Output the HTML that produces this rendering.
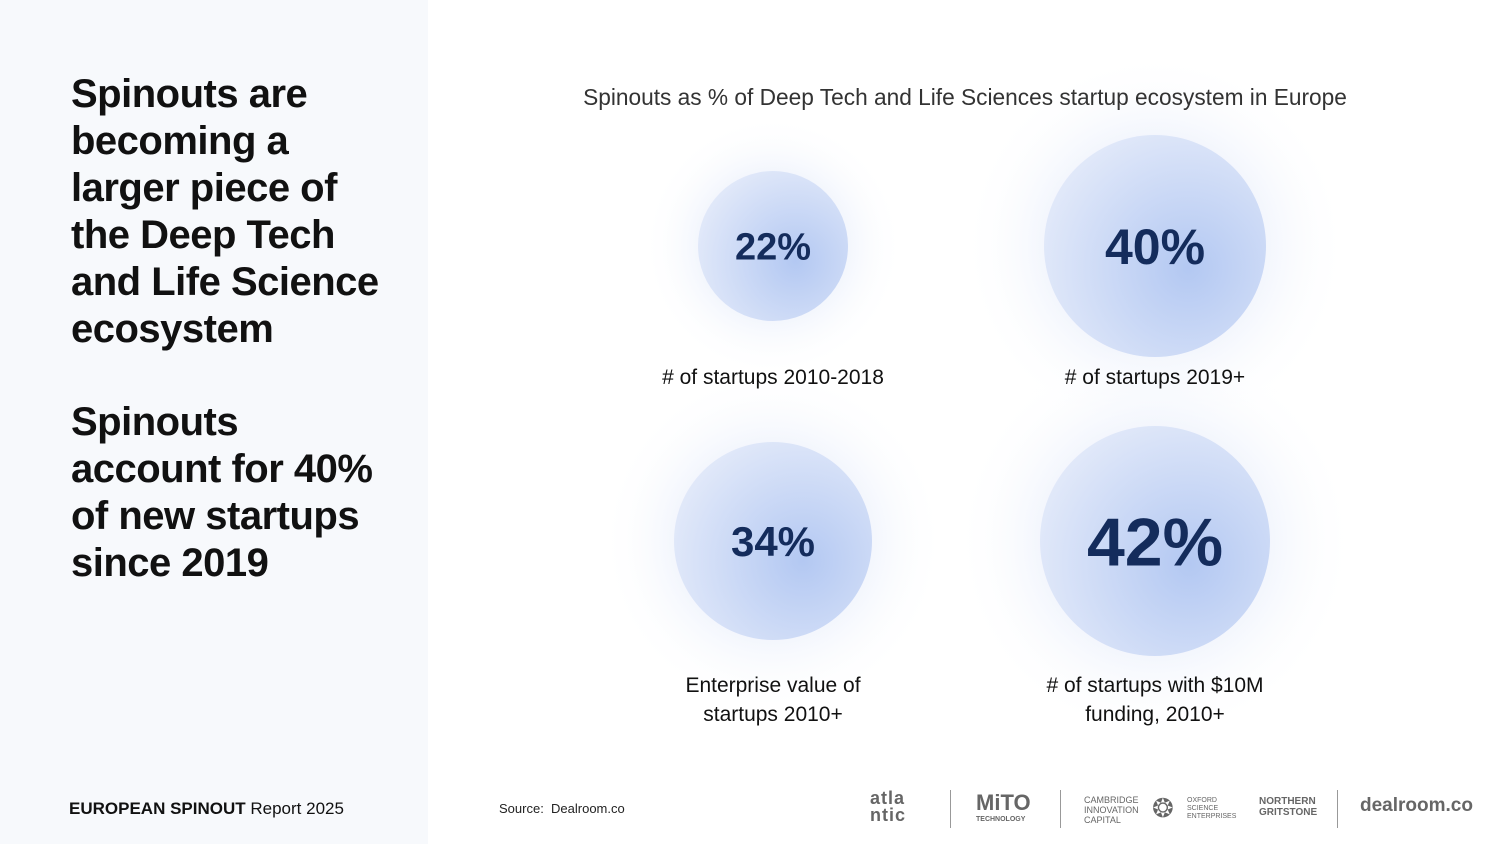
<!DOCTYPE html>
<html><head><meta charset="utf-8"><style>
html,body{margin:0;padding:0;width:1500px;height:844px;overflow:hidden;background:#fff;font-family:"Liberation Sans",sans-serif}
#left{position:absolute;left:0;top:0;width:428px;height:844px;background:#f7f9fc}
.h{position:absolute;left:71px;font-weight:bold;font-size:40px;line-height:47px;color:#111;letter-spacing:-0.5px}
#foot{position:absolute;left:69px;top:799px;font-size:17px;color:#111}
#src{position:absolute;left:499px;top:801px;font-size:13px;color:#222}
.logo{position:absolute;color:#666;font-weight:bold;font-family:"Liberation Sans",sans-serif}
.sep{position:absolute;top:790px;width:1px;height:38px;background:#999}
</style></head><body>
<div id="left">
<div class="h" style="top:71px">Spinouts are<br>becoming a<br>larger piece of<br>the Deep Tech<br>and Life Science<br>ecosystem</div>
<div class="h" style="top:399px">Spinouts<br>account for 40%<br>of new startups<br>since 2019</div>
<div id="foot"><b>EUROPEAN SPINOUT</b> Report 2025</div>
</div>
<div id="src">Source:&nbsp; Dealroom.co</div>
<svg id="chart" width="1500" height="844" style="position:absolute;left:0;top:0">
<defs>
<radialGradient id="glow"><stop offset="0.5" stop-color="#e8eefb" stop-opacity="0.7"/><stop offset="1" stop-color="#ffffff" stop-opacity="0"/></radialGradient>
<radialGradient id="fill" cx="0.65" cy="0.6" r="0.75"><stop offset="0" stop-color="#b3c8f2"/><stop offset="1" stop-color="#e6ecfa"/></radialGradient>
</defs>
<g id="glows"></g>
<g id="fg"></g>
<text x="965" y="105" text-anchor="middle" font-size="22.7" fill="#333">Spinouts as % of Deep Tech and Life Sciences startup ecosystem in Europe</text>
</svg>
<div class="logo" style="left:870px;top:790px;font-size:18px;line-height:17px;letter-spacing:1px">atla<br>ntic</div>
<div class="sep" style="left:950px"></div>
<div class="logo" style="left:976px;top:790px;font-size:22px">MiTO<div style="font-size:7px">TECHNOLOGY</div></div>
<div class="sep" style="left:1060px"></div>
<div class="logo" style="left:1084px;top:795px;font-size:9px;line-height:10px;font-weight:normal">CAMBRIDGE<br>INNOVATION<br>CAPITAL</div>
<div class="logo" style="left:1152px;top:793px;font-size:26px;font-weight:normal">❂</div>
<div class="logo" style="left:1187px;top:797px;font-size:7px;line-height:8px;font-weight:normal">OXFORD<br>SCIENCE<br>ENTERPRISES</div>
<div class="logo" style="left:1259px;top:796px;font-size:10px;line-height:11px">NORTHERN<br>GRITSTONE</div>
<div class="sep" style="left:1337px"></div>
<div class="logo" style="left:1360px;top:795px;font-size:19px">dealroom.co</div>
<script>
const labels=["# of startups 2010-2018","# of startups 2019+","Enterprise value of|startups 2010+","# of startups with $10M|funding, 2010+"];
const values=[22,40,34,42];
const cols=[0,1,0,1];
const rows=[0,0,1,1];
const glows=document.getElementById('glows');
const fg=document.getElementById('fg');
const NS="http://www.w3.org/2000/svg";
const xPos=c=>773+c*382;
const yPos=r=>246+r*295;
const rScale=v=>75+(v-22)*2.0;
const fScale=v=>v>=42?68:(v>=40?50:(v>=34?42:38));
values.forEach((v,i)=>{
 const cx=xPos(cols[i]),cy=yPos(rows[i]),r=rScale(v);
 const g=document.createElementNS(NS,'circle');
 g.setAttribute('cx',cx);g.setAttribute('cy',cy);g.setAttribute('r',r*1.75);g.setAttribute('fill','url(#glow)');
 
 
 glows.appendChild(g);
 const c=document.createElementNS(NS,'circle');
 c.setAttribute('cx',cx);c.setAttribute('cy',cy);c.setAttribute('r',r);c.setAttribute('fill','url(#fill)');
 
 
 fg.appendChild(c);
 const t=document.createElementNS(NS,'text');
 const fs=fScale(v);
 t.setAttribute('x',cx);t.setAttribute('y',cy+fs*0.36);t.setAttribute('text-anchor','middle');
 t.setAttribute('font-size',fs);t.setAttribute('font-weight','bold');t.setAttribute('fill','#142c5c');
 t.textContent=v+'%';
 
 
 fg.appendChild(t);
 const ly=rows[i]?692:384;
 labels[i].split('|').forEach((ln,k)=>{
  const l=document.createElementNS(NS,'text');
  l.setAttribute('x',cx);l.setAttribute('y',ly+k*29);l.setAttribute('text-anchor','middle');
  l.setAttribute('font-size',21);l.setAttribute('fill','#111');
  l.textContent=ln;
  
  
  fg.appendChild(l);
 });
});
</script>
</body></html>
